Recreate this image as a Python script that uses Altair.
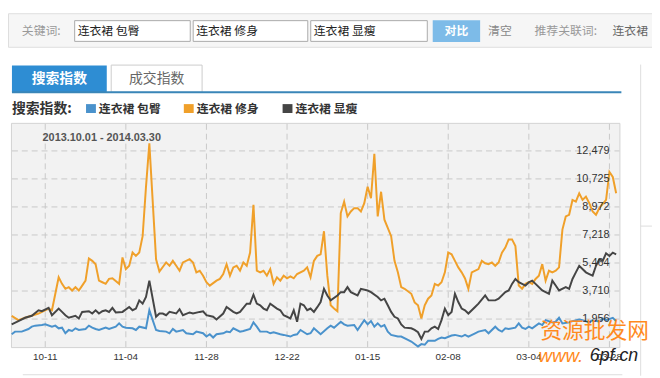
import altair as alt
import pandas as pd

# ---------------- data (days counted from 2013-10-01) ----------------
series_names = ["连衣裙 包臀", "连衣裙 修身", "连衣裙 显瘦"]
series_colors = ["#4a92cc", "#f0a02a", "#454545"]

blue_days = [0, 1, 3, 5, 6, 7, 9, 10, 12, 13, 14, 15, 16, 17, 18, 19, 20, 22, 23, 24, 25, 26, 28, 29, 31, 32, 33, 34, 36, 37, 38, 40, 41, 43, 44,
             46, 47, 48, 49, 51, 52, 54, 55, 57, 58, 59, 60, 61, 63, 64, 65, 66, 68, 69, 71, 72, 73, 74, 76, 77, 78, 80, 81, 83, 84, 85, 86, 88, 89, 90,
             92, 94, 95, 96, 98, 99, 100, 102, 103, 105, 106, 107, 108, 109, 110, 111, 112, 113, 115, 116, 118, 119, 121, 122, 123, 124, 126, 127, 128, 129,
             131, 132, 134, 135, 136, 138, 139, 141, 142, 144, 145, 146, 147, 148, 150, 151, 152, 153, 154, 155, 157, 158, 159, 161, 162, 163, 164, 166, 167,
             169, 170, 172, 173, 175, 176, 177, 179, 180]
blue_vals = [1005, 1170, 1170, 1333, 1479, 1543, 1582, 1623, 1479, 1543, 1376, 1417, 1067, 1273, 1211, 1376, 1273, 1335, 1543, 1417, 1335, 1273, 1417, 1335, 1479, 1685, 1479, 1417, 1376, 1273, 1479, 1376, 2507, 1273, 1211,
             1170, 1067, 1335, 1170, 1273, 1067, 1005, 1170, 1067, 861, 1005, 800, 1005, 1067, 1170, 1128, 1376, 1170, 1211, 1335, 1747, 1479, 1170, 1170, 1067, 1128, 1005, 964, 861, 964, 1005, 1273, 1005, 1067, 1376,
             1005, 1376, 1543, 1417, 1788, 1623, 1543, 1582, 1273, 1890, 1623, 1828, 1479, 1685, 1479, 1582, 1170, 964, 861, 861, 655, 552, 243, 387, 346, 593, 593, 717, 800, 758,
             923, 964, 861, 964, 861, 1067, 1170, 1273, 1067, 1479, 1273, 1170, 1376, 1335, 1417, 1685, 1417, 1335, 1479, 1376, 1685, 1582, 1890, 1747, 1788, 2037, 1685, 1747, 1828,
             1932, 1890, 1747, 1890, 1788, 1994, 1890, 2037, 1828]

orange_days = [0, 2, 4, 8, 11, 12, 14, 15, 16, 17, 18, 19, 20, 21, 22, 23, 24, 25, 26, 27, 28, 29, 30, 32, 33, 34, 35, 36, 37, 38, 39, 40, 41, 43, 44,
               46, 47, 48, 49, 50, 51, 53, 54, 55, 56, 57, 58, 59, 61, 62, 63, 64, 65, 66, 67, 68, 69, 70, 71, 72, 73, 74, 75, 76, 77, 78, 79, 80,
               81, 82, 83, 84, 85, 87, 88, 89, 90, 91, 92, 93, 94, 95, 96, 97, 98, 99, 100, 101, 102, 103, 104, 105, 106, 107, 108, 109, 110, 111,
               113, 114, 115, 116, 117, 119, 120, 121, 122, 123, 124, 125, 126, 127, 128, 129, 130, 131, 132, 133, 134, 135, 136, 137, 139, 140, 141,
               142, 143, 144, 145, 146, 147, 148, 149, 150, 151, 152, 153, 154, 155, 156, 157, 158, 159, 160, 161, 162, 163, 164, 165, 166, 167, 168,
               169, 170, 171, 172, 173, 174, 175, 177, 178, 179, 180]
orange_vals = [2160, 1890, 2040, 2300, 2610, 2510, 4570, 4160, 3850, 3950, 3740, 3950, 3740, 4050, 4360, 5750, 5600, 5390, 4360, 4260, 4160, 4470, 4510, 4160, 5810, 5080, 5290, 6120, 5910, 6120, 7140, 10230, 12950, 5700, 4930,
               5500, 5290, 5600, 5290, 4980, 5500, 5700, 5500, 4880, 4980, 4670, 4260, 4050, 4360, 4470, 4775, 5390, 4670, 5190, 5290, 4980, 5500, 5290, 6120, 9100, 4980, 4880, 4980, 4670, 5080, 4160, 4570, 4360,
               4670, 4510, 4630, 4510, 4775, 4980, 5190, 4570, 5600, 5910, 6010, 7450, 4670, 2816, 2612, 2445, 8588, 9305, 8378, 8687, 8897, 8897, 8687, 9206, 10233, 9515, 12296, 8378, 9923, 8174,
               7143, 5597, 4880, 3953, 3848, 3539, 3000, 2816, 1994, 2816, 3230, 3434, 4157, 4052, 4262, 4880, 6116, 6010, 5597, 5187, 4880, 4500, 3848, 4880, 5084, 5597, 5450,
               5393, 5498, 5290, 5498, 6116, 6425, 6940, 6940, 6530, 4052, 3848, 4157, 4262, 4157, 4466, 4670, 5393, 4361, 4980, 4880, 4980, 5190, 7556, 8378, 8480, 9410, 9305,
               9825, 9410, 9615, 9206, 8687, 8480, 8897, 9410, 11160, 10850, 9825]

dark_days = [0, 2, 4, 6, 8, 9, 11, 12, 14, 15, 16, 17, 19, 20, 21, 23, 24, 25, 26, 27, 28, 29, 30, 31, 33, 35, 36, 37, 38, 39, 40, 41, 43, 44,
             45, 46, 47, 49, 50, 51, 53, 54, 56, 57, 58, 60, 61, 63, 64, 66, 67, 68, 70, 71, 72, 73, 74, 75, 76, 77, 79, 80, 81, 83, 84, 85, 86, 87, 88, 89, 90,
             91, 92, 93, 94, 95, 97, 98, 99, 100, 101, 103, 104, 106, 107, 109, 110, 111, 112, 113, 114, 115, 116, 117, 119, 120, 121, 122, 123, 124, 125, 126, 127, 128,
             129, 130, 131, 132, 133, 134, 135, 136, 138, 139, 141, 142, 144, 145, 147, 148, 149, 150, 151, 152, 153, 154, 155, 156, 158, 159, 160, 161, 162, 163,
             165, 166, 167, 168, 169, 171, 172, 173, 174, 175, 176, 177, 178, 179, 180]
dark_vals = [1623, 1828, 2037, 2161, 2507, 2445, 2655, 2198, 2612, 2403, 2198, 2037, 2161, 1994, 2403, 2445, 2303, 2507, 2303, 2445, 2507, 2403, 2655, 2370, 2403, 2715, 2507, 2612, 3125, 2920, 3335, 4361, 2099, 2303,
             2303, 2198, 2403, 2303, 2570, 2198, 2370, 2303, 2403, 2445, 2198, 2099, 1932, 2303, 2715, 2403, 2303, 2403, 2920, 2920, 3477, 2920, 2816, 2612, 2507, 2920, 2612, 2507, 2198, 1994, 2507, 1782, 2920, 2816, 2507, 2612, 2403,
             2700, 3020, 3848, 3434, 3125, 3434, 3640, 3640, 3953, 3640, 3434, 3848, 3743, 3640, 3335, 3125, 3230, 2816, 2403, 2099, 1994, 1623, 1417, 1376, 1273, 1128, 716, 1170, 1170, 1376, 1479, 1335, 1890,
             2612, 2198, 2403, 3537, 3020, 2612, 2507, 2303, 2715, 2920, 3434, 3125, 3125, 3230, 3640, 3743, 4157, 4466, 4262, 4157, 4052, 4262, 4361, 4157, 3743, 3640, 3537, 4361, 4052, 3743,
             3953, 3848, 4466, 4880, 5290, 4880, 4775, 4670, 5290, 5700, 5597, 6070, 5907, 6116, 6010]

y_ticks = [1956, 3710, 5464, 7218, 8972, 10726, 12479]
y_tick_labels = ["1,956", "3,710", "5,464", "7,218", "8,972", "10,725", "12,479"]
x_tick_days = [10, 34, 58, 82, 106, 130, 154, 178]
x_tick_labels = ["10-11", "11-04", "11-28", "12-22", "01-15", "02-08", "03-04", "03-28"]
date_range_text = "2013.10.01 - 2014.03.30"
keywords = ["连衣裙 包臀", "连衣裙 修身", "连衣裙 显瘦"]

# ---------------- layout ----------------
CJK = "Noto Sans CJK SC"
LAT = "Liberation Sans"
W, H = 652, 370
PL, PR, PT, PB = 3, 619, 114, 341

xscale = alt.Scale(domain=[0, 181], range=[3.7, 619.1], nice=False, zero=False)
yscale = alt.Scale(domain=[202, 14233], range=[PB, PT], nice=False, zero=False)

dummy = pd.DataFrame({"a": [0]})
layers = []


def rect(x1, y1, x2, y2, fill, stroke=None, sw=1):
    kw = dict(fill=fill)
    if stroke is not None:
        kw.update(stroke=stroke, strokeWidth=sw)
    else:
        kw.update(strokeWidth=0)
    return alt.Chart(dummy).mark_rect(**kw).encode(
        x=alt.value(x1), x2=alt.value(x2), y=alt.value(y1), y2=alt.value(y2))


def rule(x1, y1, x2, y2, color, sw=1, dash=None):
    kw = dict(color=color, strokeWidth=sw)
    if dash is not None:
        kw["strokeDash"] = dash
    return alt.Chart(dummy).mark_rule(**kw).encode(
        x=alt.value(x1), x2=alt.value(x2), y=alt.value(y1), y2=alt.value(y2))


def label(x, y, text, size=12, color="#333333", weight="normal", align="left", font=CJK, style="normal"):
    return alt.Chart(dummy).mark_text(
        text=text, fontSize=size, color=color, fontWeight=weight, align=align,
        baseline="middle", font=font, fontStyle=style).encode(x=alt.value(x), y=alt.value(y))


# search bar
layers.append(rect(0.5, 3.5, 660, 37.5, "#f6f6f6", "#dddddd"))
layers.append(label(14, 21, "关键词:", 12, "#999999"))
for i, (xa, xb) in enumerate([(67.5, 184.5), (187.5, 303.5), (306.5, 424.5)]):
    layers.append(rect(xa, 10.5, xb, 31.5, "#ffffff", "#aaaaaa"))
    layers.append(label(xa + 3, 21, keywords[i], 12, "#222222"))
layers.append(rect(430, 10, 478, 32, "#7dbbe8"))
layers.append(label(454, 21, "对比", 12, "#ffffff", "bold", "center"))
layers.append(label(486, 21, "清空", 12, "#888888"))
layers.append(label(533, 21, "推荐关联词:", 12, "#999999"))
layers.append(label(612, 21, "连衣裙", 12, "#666666"))

# tabs
layers.append(rect(4, 56, 100, 83, "#2e8dd3"))
layers.append(label(52, 70, "搜索指数", 14, "#ffffff", "bold", "center"))
layers.append(rect(104.5, 55.5, 196.5, 83, "#ffffff", "#cccccc"))
layers.append(label(150.5, 70, "成交指数", 14, "#666666", "normal", "center"))
layers.append(rect(4, 82, 621, 84, "#3a86b8"))
layers.append(rule(640.5, 55, 640.5, 370, "#dddddd"))
layers.append(rule(640, 218.5, 652, 218.5, "#dddddd"))

# legend
layers.append(label(4, 99.5, "搜索指数:", 14, "#333333", "bold"))
for i, lx in enumerate([79, 178, 278]):
    layers.append(rect(lx, 95, lx + 10, 104, series_colors[i]))
    layers.append(label(lx + 13, 99.5, series_names[i], 12, "#333333", "bold"))

# plot frame
layers.append(rect(PL + 0.5, PT + 0.5, PR + 0.5, PB + 0.5, "#f2f2f2", "#d2d2d2"))

grid_y = pd.DataFrame({"v": y_ticks, "label": y_tick_labels})
grid_x = pd.DataFrame({"d": x_tick_days, "label": x_tick_labels})

layers.append(alt.Chart(grid_y).mark_rule(color="#c8c8c8", strokeDash=[6, 4], strokeWidth=1).encode(
    y=alt.Y("v:Q", scale=yscale, axis=None), x=alt.value(PL + 1), x2=alt.value(PR)))
layers.append(alt.Chart(grid_x).mark_rule(color="#c8c8c8", strokeDash=[6, 4], strokeWidth=1).encode(
    x=alt.X("d:Q", scale=xscale, axis=None), y=alt.value(PT + 1), y2=alt.value(PB)))

layers.append(label(35, 129, date_range_text, 11, "#555555", "bold", "left", LAT))

# series lines
for days, vals, col in [(blue_days, blue_vals, series_colors[0]),
                        (orange_days, orange_vals, series_colors[1]),
                        (dark_days, dark_vals, series_colors[2])]:
    df = pd.DataFrame({"day": days, "value": vals})
    layers.append(alt.Chart(df).mark_line(color=col, strokeWidth=2).encode(
        x=alt.X("day:Q", scale=xscale, axis=None),
        y=alt.Y("value:Q", scale=yscale, axis=None)))

# axis labels
layers.append(alt.Chart(grid_y).mark_text(align="right", baseline="middle", fontSize=11, font=LAT, color="#333333").encode(
    y=alt.Y("v:Q", scale=yscale, axis=None), x=alt.value(609), text="label:N"))
layers.append(alt.Chart(grid_x).mark_text(align="center", baseline="middle", fontSize=10, font=LAT, color="#333333").encode(
    x=alt.X("d:Q", scale=xscale, axis=None), y=alt.value(351), text="label:N"))

layers.append(rule(15, 369, 622, 369, "#dddddd"))

# watermark
layers.append(label(539, 325, "资源批发网", 22, "#ff8a1e"))
layers.append(label(537, 350, "www.", 19, "#ff8a1e", "normal", "left", LAT, "italic"))
layers.append(label(589, 350, "6pf.cn", 18, "#222222", "normal", "left", LAT, "italic"))

chart = alt.layer(*layers).properties(
    width=W, height=H, padding=0, background="white",
    autosize=alt.AutoSizeParams(type="none")
).configure_view(strokeWidth=0)

chart.save("out.html", embed_options={"renderer": "svg", "actions": False})
